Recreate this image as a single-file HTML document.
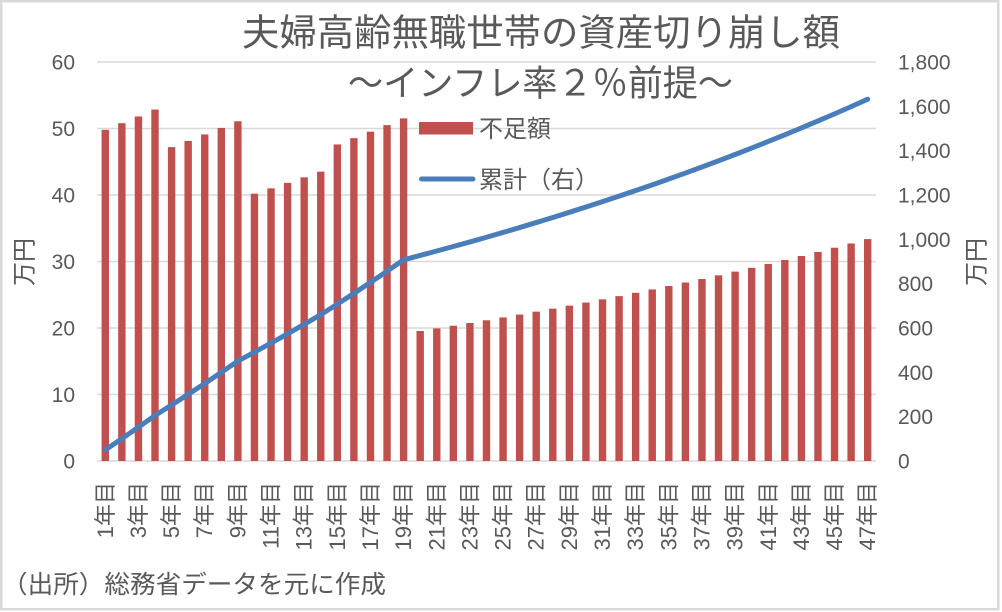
<!DOCTYPE html>
<html><head><meta charset="utf-8"><style>
html,body{margin:0;padding:0;background:#fff;}
svg{display:block;}
text{font-family:"Liberation Sans","Noto Sans CJK JP",sans-serif;fill:#595959;}
</style></head><body>
<svg width="1002" height="612" viewBox="0 0 1002 612" xmlns="http://www.w3.org/2000/svg">
<rect x="0" y="0" width="1002" height="612" fill="#fff"/>
<rect x="1.25" y="1.25" width="997" height="608" fill="none" stroke="#d9d9d9" stroke-width="2.5"/>
<g stroke="#d9d9d9" stroke-width="1.5">
<line x1="97" y1="62" x2="876" y2="62"/>
<line x1="97" y1="128.5" x2="876" y2="128.5"/>
<line x1="97" y1="195" x2="876" y2="195"/>
<line x1="97" y1="261.5" x2="876" y2="261.5"/>
<line x1="97" y1="328" x2="876" y2="328"/>
<line x1="97" y1="394.5" x2="876" y2="394.5"/>
<line x1="97" y1="461" x2="876" y2="461"/>
</g>
<g transform="translate(97,461) scale(16.574,-6.65)" fill="#c0504d">
<rect x="0.277" y="0" width="0.446" height="49.8"/>
<rect x="1.277" y="0" width="0.446" height="50.80"/>
<rect x="2.277" y="0" width="0.446" height="51.81"/>
<rect x="3.277" y="0" width="0.446" height="52.85"/>
<rect x="4.277" y="0" width="0.446" height="47.2"/>
<rect x="5.277" y="0" width="0.446" height="48.14"/>
<rect x="6.277" y="0" width="0.446" height="49.11"/>
<rect x="7.277" y="0" width="0.446" height="50.09"/>
<rect x="8.277" y="0" width="0.446" height="51.09"/>
<rect x="9.277" y="0" width="0.446" height="40.2"/>
<rect x="10.277" y="0" width="0.446" height="41.00"/>
<rect x="11.277" y="0" width="0.446" height="41.82"/>
<rect x="12.277" y="0" width="0.446" height="42.66"/>
<rect x="13.277" y="0" width="0.446" height="43.51"/>
<rect x="14.277" y="0" width="0.446" height="47.6"/>
<rect x="15.277" y="0" width="0.446" height="48.55"/>
<rect x="16.277" y="0" width="0.446" height="49.52"/>
<rect x="17.277" y="0" width="0.446" height="50.51"/>
<rect x="18.277" y="0" width="0.446" height="51.52"/>
<rect x="19.277" y="0" width="0.446" height="19.55"/>
<rect x="20.277" y="0" width="0.446" height="19.94"/>
<rect x="21.277" y="0" width="0.446" height="20.34"/>
<rect x="22.277" y="0" width="0.446" height="20.75"/>
<rect x="23.277" y="0" width="0.446" height="21.16"/>
<rect x="24.277" y="0" width="0.446" height="21.59"/>
<rect x="25.277" y="0" width="0.446" height="22.02"/>
<rect x="26.277" y="0" width="0.446" height="22.46"/>
<rect x="27.277" y="0" width="0.446" height="22.91"/>
<rect x="28.277" y="0" width="0.446" height="23.36"/>
<rect x="29.277" y="0" width="0.446" height="23.83"/>
<rect x="30.277" y="0" width="0.446" height="24.31"/>
<rect x="31.277" y="0" width="0.446" height="24.79"/>
<rect x="32.277" y="0" width="0.446" height="25.29"/>
<rect x="33.277" y="0" width="0.446" height="25.80"/>
<rect x="34.277" y="0" width="0.446" height="26.31"/>
<rect x="35.277" y="0" width="0.446" height="26.84"/>
<rect x="36.277" y="0" width="0.446" height="27.37"/>
<rect x="37.277" y="0" width="0.446" height="27.92"/>
<rect x="38.277" y="0" width="0.446" height="28.48"/>
<rect x="39.277" y="0" width="0.446" height="29.05"/>
<rect x="40.277" y="0" width="0.446" height="29.63"/>
<rect x="41.277" y="0" width="0.446" height="30.22"/>
<rect x="42.277" y="0" width="0.446" height="30.83"/>
<rect x="43.277" y="0" width="0.446" height="31.44"/>
<rect x="44.277" y="0" width="0.446" height="32.07"/>
<rect x="45.277" y="0" width="0.446" height="32.71"/>
<rect x="46.277" y="0" width="0.446" height="33.37"/>
</g>
<g transform="translate(97,461) scale(16.574,-0.221667)">
<polyline fill="none" stroke="#4a7ebb" stroke-width="5" stroke-linejoin="round" stroke-linecap="round" vector-effect="non-scaling-stroke" points="0.5,49.8 1.5,100.6 2.5,152.41 3.5,205.26 4.5,252.46 5.5,300.60 6.5,349.71 7.5,399.80 8.5,450.89 9.5,491.09 10.5,532.09 11.5,573.91 12.5,616.57 13.5,660.08 14.5,707.68 15.5,756.23 16.5,805.75 17.5,856.26 18.5,907.78 19.5,927.33 20.5,947.27 21.5,967.61 22.5,988.36 23.5,1009.52 24.5,1031.11 25.5,1053.13 26.5,1075.59 27.5,1098.50 28.5,1121.86 29.5,1145.69 30.5,1170.00 31.5,1194.79 32.5,1220.08 33.5,1245.88 34.5,1272.19 35.5,1299.03 36.5,1326.40 37.5,1354.32 38.5,1382.80 39.5,1411.85 40.5,1441.48 41.5,1471.70 42.5,1502.53 43.5,1533.97 44.5,1566.04 45.5,1598.75 46.5,1632.12"/>
</g>
<g font-size="21" text-anchor="end">
<text x="75" y="69.5">60</text>
<text x="75" y="136">50</text>
<text x="75" y="202.5">40</text>
<text x="75" y="269">30</text>
<text x="75" y="335.5">20</text>
<text x="75" y="402">10</text>
<text x="75" y="468.5">0</text>
</g>
<g font-size="21" text-anchor="start">
<text x="898" y="69.5">1,800</text>
<text x="898" y="113.8">1,600</text>
<text x="898" y="158.2">1,400</text>
<text x="898" y="202.5">1,200</text>
<text x="898" y="246.8">1,000</text>
<text x="898" y="291.2">800</text>
<text x="898" y="335.5">600</text>
<text x="898" y="379.8">400</text>
<text x="898" y="424.2">200</text>
<text x="898" y="468.5">0</text>
</g>
<text font-size="24" text-anchor="middle" dominant-baseline="central" transform="translate(25,262) rotate(-90)">万円</text>
<text font-size="24" text-anchor="middle" dominant-baseline="central" transform="translate(977,262) rotate(-90)">万円</text>
<g font-size="22" text-anchor="end" dominant-baseline="central">
<text transform="translate(105.29,482) rotate(-90)">1年目</text>
<text transform="translate(138.44,482) rotate(-90)">3年目</text>
<text transform="translate(171.58,482) rotate(-90)">5年目</text>
<text transform="translate(204.73,482) rotate(-90)">7年目</text>
<text transform="translate(237.88,482) rotate(-90)">9年目</text>
<text transform="translate(271.03,482) rotate(-90)">11年目</text>
<text transform="translate(304.18,482) rotate(-90)">13年目</text>
<text transform="translate(337.32,482) rotate(-90)">15年目</text>
<text transform="translate(370.47,482) rotate(-90)">17年目</text>
<text transform="translate(403.62,482) rotate(-90)">19年目</text>
<text transform="translate(436.77,482) rotate(-90)">21年目</text>
<text transform="translate(469.91,482) rotate(-90)">23年目</text>
<text transform="translate(503.06,482) rotate(-90)">25年目</text>
<text transform="translate(536.21,482) rotate(-90)">27年目</text>
<text transform="translate(569.36,482) rotate(-90)">29年目</text>
<text transform="translate(602.51,482) rotate(-90)">31年目</text>
<text transform="translate(635.65,482) rotate(-90)">33年目</text>
<text transform="translate(668.80,482) rotate(-90)">35年目</text>
<text transform="translate(701.95,482) rotate(-90)">37年目</text>
<text transform="translate(735.10,482) rotate(-90)">39年目</text>
<text transform="translate(768.25,482) rotate(-90)">41年目</text>
<text transform="translate(801.39,482) rotate(-90)">43年目</text>
<text transform="translate(834.54,482) rotate(-90)">45年目</text>
<text transform="translate(867.69,482) rotate(-90)">47年目</text>
</g>
<text x="242" y="45.5" font-size="37" textLength="598" lengthAdjust="spacingAndGlyphs">夫婦高齢無職世帯の資産切り崩し額</text>
<text x="348" y="95.5" font-size="36" textLength="385" lengthAdjust="spacingAndGlyphs">～インフレ率２％前提～</text>
<rect x="419" y="122" width="54" height="12.5" fill="#c0504d"/>
<text x="479" y="137" font-size="24">不足額</text>
<line x1="421.5" y1="179" x2="473" y2="179" stroke="#4a7ebb" stroke-width="5" stroke-linecap="round"/>
<text x="479" y="188" font-size="24">累計（右）</text>
<text x="2" y="593" font-size="25" textLength="384" lengthAdjust="spacingAndGlyphs">（出所）総務省データを元に作成</text>
</svg>
</body></html>
